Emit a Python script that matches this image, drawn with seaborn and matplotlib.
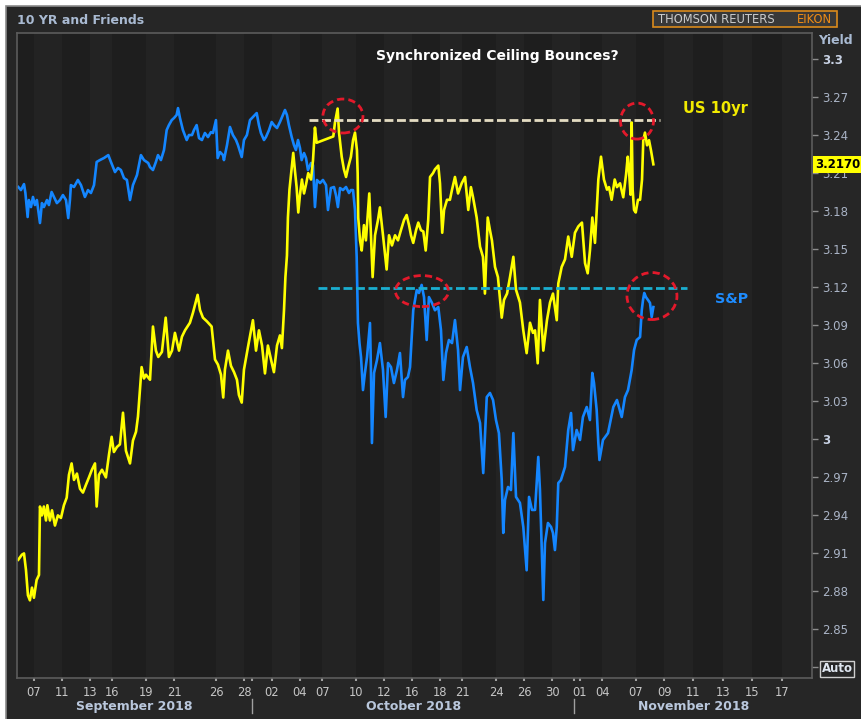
import numpy as np
import pandas as pd
import matplotlib
matplotlib.use("Agg")
import matplotlib.pyplot as plt
import matplotlib.transforms as mtransforms
from matplotlib.patches import Ellipse, Rectangle
import seaborn as sns

# ---------------- data (x = trading-session index, 0 = 7 Sep 2018) ----------------
yl_day = [-1.12, -0.86, -0.71, -0.57, -0.43, -0.29, -0.14, 0.00, 0.19, 0.36,
          0.43, 0.57, 0.71, 0.86, 0.96, 1.14, 1.29, 1.50, 1.71, 1.93,
          2.14, 2.34, 2.50, 2.69, 2.86, 3.07, 3.29, 3.50, 3.71, 3.93,
          4.14, 4.36, 4.48, 4.64, 4.86, 5.14, 5.36, 5.55, 5.71, 5.93,
          6.14, 6.36, 6.57, 6.86, 7.07, 7.29, 7.43, 7.69, 7.86, 8.00,
          8.29, 8.50, 8.71, 8.88, 9.14, 9.41, 9.64, 9.86, 10.07, 10.36,
          10.57, 10.79, 11.14, 11.36, 11.69, 11.86, 12.07, 12.36, 12.69, 12.93,
          13.14, 13.36, 13.52, 13.64, 13.86, 14.07, 14.29, 14.50, 14.64, 14.84,
          15.00, 15.29, 15.64, 15.86, 16.07, 16.29, 16.50, 16.71, 16.93, 17.14,
          17.36, 17.57, 17.71, 17.86, 17.96, 18.07, 18.14, 18.25, 18.36, 18.52,
          18.64, 18.76, 18.88, 19.00, 19.14, 19.29, 19.43, 19.59, 19.79, 19.93,
          20.07, 20.19, 21.38, 21.50, 21.69, 21.79, 21.98, 22.14, 22.29, 22.45,
          22.64, 22.79, 22.93, 23.07, 23.12, 23.16, 23.29, 23.41, 23.57, 23.71,
          23.95, 24.07, 24.19, 24.36, 24.57, 24.71, 24.93, 25.19, 25.36, 25.57,
          25.79, 26.00, 26.21, 26.43, 26.62, 26.79, 26.93, 27.09, 27.29, 27.45,
          27.64, 27.81, 27.98, 28.16, 28.29, 28.50, 28.64, 28.88, 29.00, 29.16,
          29.29, 29.50, 29.71, 29.86, 30.07, 30.29, 30.55, 30.79, 31.02, 31.21,
          31.36, 31.62, 31.86, 32.07, 32.21, 32.41, 32.57, 32.71, 32.93, 33.14,
          33.41, 33.57, 33.79, 34.00, 34.24, 34.43, 34.71, 34.95, 35.19, 35.43,
          35.64, 35.79, 35.98, 36.14, 36.38, 36.64, 36.86, 37.07, 37.34, 37.45,
          37.69, 37.93, 38.16, 38.41, 38.64, 38.88, 39.14, 39.36, 39.55, 39.71,
          39.88, 40.07, 40.31, 40.50, 40.71, 40.93, 41.07, 41.26, 41.48, 41.64,
          41.86, 42.09, 42.29, 42.41, 42.50, 42.61, 42.69, 42.76, 42.86, 42.98,
          43.14, 43.29, 43.43, 43.52, 43.64, 43.79, 43.93, 44.07, 44.24]
yl_yield = [2.905, 2.909, 2.910, 2.897, 2.877, 2.873, 2.883, 2.875, 2.889, 2.893,
            2.947, 2.940, 2.947, 2.936, 2.948, 2.936, 2.944, 2.932, 2.940, 2.938,
            2.948, 2.954, 2.972, 2.981, 2.968, 2.973, 2.961, 2.958, 2.964, 2.970,
            2.976, 2.981, 2.947, 2.972, 2.976, 2.970, 2.988, 3.002, 2.990, 2.994,
            2.996, 3.021, 2.991, 2.981, 2.999, 3.006, 3.018, 3.057, 3.048, 3.051,
            3.047, 3.089, 3.070, 3.065, 3.069, 3.096, 3.065, 3.070, 3.084, 3.070,
            3.081, 3.086, 3.092, 3.100, 3.114, 3.102, 3.096, 3.093, 3.089, 3.063,
            3.059, 3.051, 3.033, 3.055, 3.070, 3.058, 3.053, 3.047, 3.035, 3.029,
            3.055, 3.073, 3.094, 3.070, 3.086, 3.074, 3.052, 3.074, 3.063, 3.053,
            3.074, 3.082, 3.072, 3.102, 3.128, 3.145, 3.175, 3.197, 3.209, 3.226,
            3.212, 3.199, 3.179, 3.193, 3.205, 3.194, 3.201, 3.210, 3.205, 3.220,
            3.246, 3.234, 3.239, 3.250, 3.261, 3.242, 3.223, 3.213, 3.207, 3.215,
            3.223, 3.236, 3.242, 3.228, 3.210, 3.175, 3.157, 3.149, 3.169, 3.157,
            3.194, 3.161, 3.128, 3.161, 3.173, 3.183, 3.161, 3.134, 3.161, 3.153,
            3.161, 3.157, 3.165, 3.173, 3.177, 3.169, 3.161, 3.155, 3.165, 3.171,
            3.165, 3.164, 3.149, 3.173, 3.207, 3.210, 3.213, 3.216, 3.202, 3.163,
            3.181, 3.189, 3.189, 3.197, 3.207, 3.194, 3.202, 3.207, 3.181, 3.199,
            3.191, 3.175, 3.152, 3.144, 3.115, 3.175, 3.165, 3.157, 3.136, 3.128,
            3.096, 3.110, 3.115, 3.128, 3.144, 3.118, 3.108, 3.086, 3.068, 3.092,
            3.084, 3.086, 3.060, 3.110, 3.070, 3.094, 3.108, 3.115, 3.094, 3.123,
            3.136, 3.142, 3.160, 3.144, 3.163, 3.168, 3.171, 3.139, 3.131, 3.149,
            3.175, 3.155, 3.205, 3.223, 3.205, 3.197, 3.199, 3.189, 3.205, 3.199,
            3.202, 3.191, 3.209, 3.223, 3.212, 3.193, 3.250, 3.197, 3.181, 3.179,
            3.189, 3.189, 3.205, 3.236, 3.242, 3.232, 3.236, 3.228, 3.217]

sp_day = [-1.12, -0.93, -0.71, -0.61, -0.45, -0.36, -0.21, -0.07, 0.07, 0.21,
          0.43, 0.57, 0.71, 0.93, 1.07, 1.26, 1.43, 1.64, 1.86, 2.07,
          2.29, 2.45, 2.57, 2.64, 2.86, 3.14, 3.36, 3.64, 3.86, 4.07,
          4.29, 4.48, 4.71, 5.00, 5.31, 5.50, 5.79, 6.00, 6.21, 6.43,
          6.64, 6.86, 7.07, 7.36, 7.64, 7.86, 8.16, 8.29, 8.50, 8.71,
          8.86, 9.07, 9.29, 9.48, 9.64, 9.84, 10.00, 10.19, 10.29, 10.43,
          10.64, 10.91, 11.07, 11.29, 11.43, 11.62, 11.79, 12.00, 12.21, 12.43,
          12.64, 12.79, 13.00, 13.12, 13.29, 13.50, 13.57, 13.79, 14.00, 14.21,
          14.43, 14.57, 14.84, 15.00, 15.21, 15.43, 15.64, 15.91, 16.07, 16.21,
          16.43, 16.57, 16.79, 16.98, 17.14, 17.36, 17.57, 17.93, 18.07, 18.21,
          18.41, 18.57, 18.71, 18.86, 19.00, 19.12, 19.29, 19.43, 19.57, 19.79,
          19.93, 20.07, 20.21, 20.43, 20.64, 20.86, 21.00, 21.21, 21.43, 21.57,
          21.71, 21.86, 22.07, 22.29, 22.50, 22.64, 22.79, 22.93, 23.05, 23.14,
          23.25, 23.36, 23.50, 23.64, 23.79, 24.00, 24.07, 24.14, 24.29, 24.50,
          24.71, 24.93, 25.12, 25.29, 25.50, 25.71, 25.93, 26.14, 26.36, 26.50,
          26.71, 26.86, 27.09, 27.34, 27.50, 27.69, 27.86, 28.05, 28.21, 28.43,
          28.64, 28.88, 29.07, 29.24, 29.43, 29.64, 29.86, 30.07, 30.29, 30.43,
          30.64, 30.91, 31.14, 31.36, 31.62, 31.86, 32.09, 32.34, 32.57, 32.79,
          33.00, 33.21, 33.41, 33.52, 33.64, 33.86, 34.07, 34.24, 34.43, 34.71,
          34.95, 35.19, 35.36, 35.57, 35.79, 36.02, 36.14, 36.38, 36.50, 36.71,
          36.93, 37.07, 37.21, 37.34, 37.45, 37.64, 37.93, 38.16, 38.36, 38.50,
          38.76, 39.00, 39.21, 39.48, 39.71, 39.88, 40.00, 40.19, 40.31, 40.39,
          40.64, 41.00, 41.38, 41.64, 41.98, 42.21, 42.43, 42.69, 42.86, 43.05,
          43.29, 43.41, 43.50, 43.59, 43.71, 43.86, 44.00, 44.12, 44.24]
sp_value = [2887.1, 2885.0, 2889.1, 2883.0, 2866.6, 2878.2, 2873.4, 2880.3, 2874.8, 2878.2,
            2862.5, 2876.1, 2873.4, 2878.2, 2874.8, 2883.7, 2880.3, 2876.1, 2878.2, 2881.6,
            2878.2, 2865.9, 2878.2, 2888.4, 2887.1, 2891.9, 2888.4, 2880.3, 2885.0, 2883.0,
            2888.4, 2904.2, 2905.5, 2906.9, 2908.9, 2904.2, 2897.3, 2900.1, 2898.7, 2893.2,
            2891.9, 2878.2, 2888.4, 2895.3, 2908.9, 2905.5, 2903.5, 2900.7, 2898.7, 2904.2,
            2908.9, 2905.5, 2912.4, 2926.0, 2929.4, 2932.8, 2934.2, 2936.3, 2941.0, 2934.2,
            2926.0, 2919.2, 2922.6, 2922.6, 2926.0, 2929.4, 2920.5, 2919.2, 2924.0, 2921.2,
            2924.6, 2924.0, 2932.8, 2906.9, 2911.0, 2908.9, 2905.5, 2915.8, 2928.1, 2922.6,
            2919.2, 2915.8, 2907.6, 2919.2, 2922.6, 2932.8, 2934.9, 2937.6, 2929.4, 2924.0,
            2919.2, 2921.2, 2926.0, 2931.5, 2929.4, 2927.4, 2931.5, 2939.7, 2936.3, 2929.4,
            2921.2, 2915.8, 2912.4, 2919.2, 2913.7, 2905.5, 2910.3, 2906.9, 2898.7, 2903.5,
            2902.1, 2873.4, 2891.9, 2889.8, 2891.9, 2888.4, 2871.4, 2886.4, 2887.1, 2881.6,
            2873.4, 2886.4, 2885.0, 2887.1, 2883.0, 2885.0, 2885.0, 2871.4, 2839.3, 2794.2,
            2780.5, 2770.9, 2748.4, 2760.1, 2770.9, 2794.2, 2762.1, 2712.2, 2760.1, 2768.9,
            2780.5, 2762.1, 2730.0, 2766.9, 2764.1, 2753.2, 2762.1, 2773.7, 2743.6, 2755.3,
            2757.3, 2764.1, 2802.9, 2816.7, 2814.7, 2820.2, 2811.9, 2782.6, 2811.9, 2807.9,
            2802.9, 2805.1, 2789.4, 2755.3, 2773.7, 2782.6, 2780.5, 2796.2, 2775.7, 2748.4,
            2770.9, 2777.8, 2764.1, 2753.2, 2734.8, 2725.9, 2691.7, 2743.6, 2746.4, 2741.6,
            2727.9, 2719.0, 2687.0, 2650.8, 2673.3, 2682.2, 2680.1, 2719.0, 2675.4, 2671.3,
            2654.9, 2625.3, 2675.4, 2666.5, 2666.5, 2702.7, 2680.1, 2605.0, 2643.9, 2657.6,
            2654.9, 2650.8, 2639.1, 2654.9, 2684.9, 2687.0, 2695.9, 2721.1, 2732.7, 2707.4,
            2721.1, 2714.3, 2730.0, 2736.8, 2727.9, 2760.1, 2753.2, 2734.8, 2712.2, 2700.6,
            2714.3, 2719.0, 2736.8, 2741.6, 2730.0, 2743.6, 2748.4, 2762.1, 2775.7, 2782.6,
            2784.6, 2802.9, 2809.9, 2814.7, 2811.9, 2809.9, 2807.9, 2798.3, 2805.1]

tick_dates = ["2018-09-07", "2018-09-11", "2018-09-13", "2018-09-16", "2018-09-19",
              "2018-09-21", "2018-09-26", "2018-09-28", "2018-10-02", "2018-10-04",
              "2018-10-07", "2018-10-10", "2018-10-12", "2018-10-16", "2018-10-18",
              "2018-10-21", "2018-10-24", "2018-10-26", "2018-10-30", "2018-11-01",
              "2018-11-04", "2018-11-07", "2018-11-09", "2018-11-11", "2018-11-13",
              "2018-11-15", "2018-11-17"]
month_starts = ["2018-10-01", "2018-11-01"]
month_labels = ["September 2018", "October 2018", "November 2018"]

us10_ceiling = 3.252      # yield level of the dashed line
sp_ceiling = 2818.0       # S&P level of the dashed line
yield_ticks = [2.82, 2.85, 2.88, 2.91, 2.94, 2.97, 3.00, 3.03, 3.06, 3.09,
               3.12, 3.15, 3.18, 3.21, 3.24, 3.27, 3.30]

# ---------------- helpers ----------------
ORIGIN = np.datetime64("2018-09-07")
LAST_SESSION = np.datetime64("2018-11-09")


def session_pos(ds):
    d = np.datetime64(ds)
    if d <= LAST_SESSION:
        n = float(np.busday_count(ORIGIN, d))
        if not np.is_busday(d):
            n -= 0.4
        return n
    return 45.0 + (d - LAST_SESSION).astype(int) * 1.05


W, H = 861, 719
plt.rcParams["font.family"] = ["DejaVu Sans"]
fig = plt.figure(figsize=(W / 100, H / 100), dpi=100, facecolor="white")
fig.patches.append(Rectangle((6 / W, -0.02), 1.02, 1 - 6 / H + 0.02, transform=fig.transFigure,
                             facecolor="#262626", edgecolor="#8a8a8a", lw=1.2, zorder=0))

ax = fig.add_axes([17 / W, 1 - 678 / H, 795 / W, 645 / H])
ax2 = ax.twinx()
ax.set_zorder(3)
ax2.set_zorder(2)
ax.patch.set_visible(False)
ax2.patch.set_visible(True)
ax2.set_facecolor("#1f1f1f")

XL = (-1.21, 55.57)
tick_pos = [session_pos(t) for t in tick_dates]
tick_lab = [t[-2:] for t in tick_dates]
bounds = [session_pos(m) - 0.4 for m in month_starts]

# alternating vertical bands
edges = [XL[0]] + tick_pos + [XL[1]]
for i in range(len(edges) - 1):
    ax2.axvspan(edges[i], edges[i + 1], color="#1e1e1e" if i % 2 == 0 else "#232323",
                lw=0, zorder=0)

sp_df = pd.DataFrame({"day": sp_day, "sp": sp_value})
yl_df = pd.DataFrame({"day": yl_day, "yield": yl_yield})
sns.lineplot(data=sp_df, x="day", y="sp", ax=ax2, color="#1486ff", lw=1.9,
             estimator=None, sort=False, legend=False)
sns.lineplot(data=yl_df, x="day", y="yield", ax=ax, color="#ffff00", lw=1.9,
             estimator=None, sort=False, legend=False)

# ceilings
dash = (0, (3.2, 1.3))
ax.hlines(us10_ceiling, 19.64, 44.71, colors="#e4dcc2", linestyles=dash, lw=2, zorder=5)
ax.hlines(sp_ceiling, 20.29, 46.64, colors="#1aaed0", linestyles=dash, lw=2, zorder=5,
          transform=ax2.transData)

red = "#e3192b"
edash = (0, (2.6, 1.5))
ax.add_patch(Ellipse((22.07, 3.2551), 2.86, 0.0268, fill=False, ec=red, lw=2, ls=edash, zorder=6))
ax.add_patch(Ellipse((43.07, 3.2511), 2.36, 0.0284, fill=False, ec=red, lw=2, ls=edash, zorder=6))
ax.add_patch(Ellipse((27.71, 2816.0), 3.79, 21.2, fill=False, ec=red, lw=2, ls=edash, zorder=6,
                     transform=ax2.transData))
ax.add_patch(Ellipse((44.14, 2812.6), 3.57, 32.1, fill=False, ec=red, lw=2, ls=edash, zorder=6,
                     transform=ax2.transData))

ax.set_xlim(*XL)
ax.set_ylim(2.8117, 3.3206)
ax2.set_ylim(2551.7, 2992.3)
for a in (ax, ax2):
    a.set_xlabel("")
    a.set_ylabel("")
    a.grid(False)

ax2.set_yticks([])
for s in ax2.spines.values():
    s.set_visible(False)
for s in ax.spines.values():
    s.set_color("#5c5c5c")
    s.set_linewidth(1.2)

# y axis (right)
ax.yaxis.tick_right()
ax.set_yticks(yield_ticks)
ylabels = ["Auto"] + [f"{v:.2f}".rstrip("0").rstrip(".") for v in yield_ticks[1:]]
ax.set_yticklabels(ylabels)
ax.tick_params(axis="y", right=True, left=False, labelright=True, labelleft=False,
               length=4, width=1, color="#8c8c8c", pad=3, labelsize=8.5, labelcolor="#aab4c6")
for lbl in ax.get_yticklabels():
    t = lbl.get_text()
    if t in ("3", "3.3"):
        lbl.set_fontweight("bold")
        lbl.set_color("#c8d2e4")
    if t == "Auto":
        lbl.set_fontweight("bold")
        lbl.set_color("#dfe6f0")
        lbl.set_bbox(dict(boxstyle="square,pad=0.12", fc="none", ec="#cfcfcf", lw=1))

# x axis
ax.set_xticks(tick_pos)
ax.set_xticklabels(tick_lab)
ax.set_xticks(bounds, minor=True)
ax.tick_params(axis="x", which="both", bottom=True, length=2.5, width=1.5, color="#a0a0a0",
               pad=3, labelsize=8.3, labelcolor="#c6c6c6")

bt = mtransforms.blended_transform_factory(ax.transData, ax.transAxes)
mcenters = [(XL[0] + bounds[0]) / 2, (bounds[0] + bounds[1]) / 2, (bounds[1] + XL[1]) / 2]
for c, lab in zip(mcenters, month_labels):
    ax.text(c, -0.0435, lab, transform=bt, ha="center", va="center", fontsize=9,
            fontweight="bold", color="#b9c7dc", clip_on=False)
for b in bounds:
    ax.axvline(b, ymin=-0.055, ymax=-0.033, color="#a0a0a0", lw=1, clip_on=False)

# price tag (covers the tick label underneath, as in the original)
bt_y = mtransforms.blended_transform_factory(ax.transAxes, ax.transData)
ax.text(1.004, yl_yield[-1], f"{yl_yield[-1]:.4f}", transform=bt_y, ha="left", va="center",
        fontsize=8.5, fontweight="bold", color="black", zorder=10, clip_on=False,
        bbox=dict(boxstyle="square,pad=0.18", fc="#ffff00", ec="none"))

# texts
ax.text(0.6038, 0.9643, "Synchronized Ceiling Bounces?", transform=ax.transAxes, ha="center",
        va="center", fontsize=10, fontweight="bold", color="white")
ax.text(0.8377, 0.8837, "US 10yr", transform=ax.transAxes, ha="left", va="center",
        fontsize=10.5, fontweight="bold", color="#f2ea00")
ax.text(0.878, 0.5876, "S&P", transform=ax.transAxes, ha="left", va="center",
        fontsize=10.3, fontweight="bold", color="#1e8cff")
ax.text(1.0075, 0.9876, "Yield", transform=ax.transAxes, ha="left", va="center",
        fontsize=9, fontweight="bold", color="#a9bad2", clip_on=False)

fig.text(17 / W, 1 - 20 / H, "10 YR and Friends", ha="left", va="center", fontsize=9,
         fontweight="bold", color="#a9bad2")
fig.patches.append(Rectangle((653 / W, 1 - 27 / H), 184 / W, 16 / H, transform=fig.transFigure,
                             facecolor="#383838", edgecolor="#d98a1c", lw=1.2, zorder=1))
fig.text(658 / W, 1 - 19.5 / H, "THOMSON REUTERS", ha="left", va="center", fontsize=8.3,
         color="#cccccc")
fig.text(832 / W, 1 - 19.5 / H, "EIKON", ha="right", va="center", fontsize=8.3,
         color="#ef8c14")

fig.savefig("out.png", dpi=100, facecolor=fig.get_facecolor())
